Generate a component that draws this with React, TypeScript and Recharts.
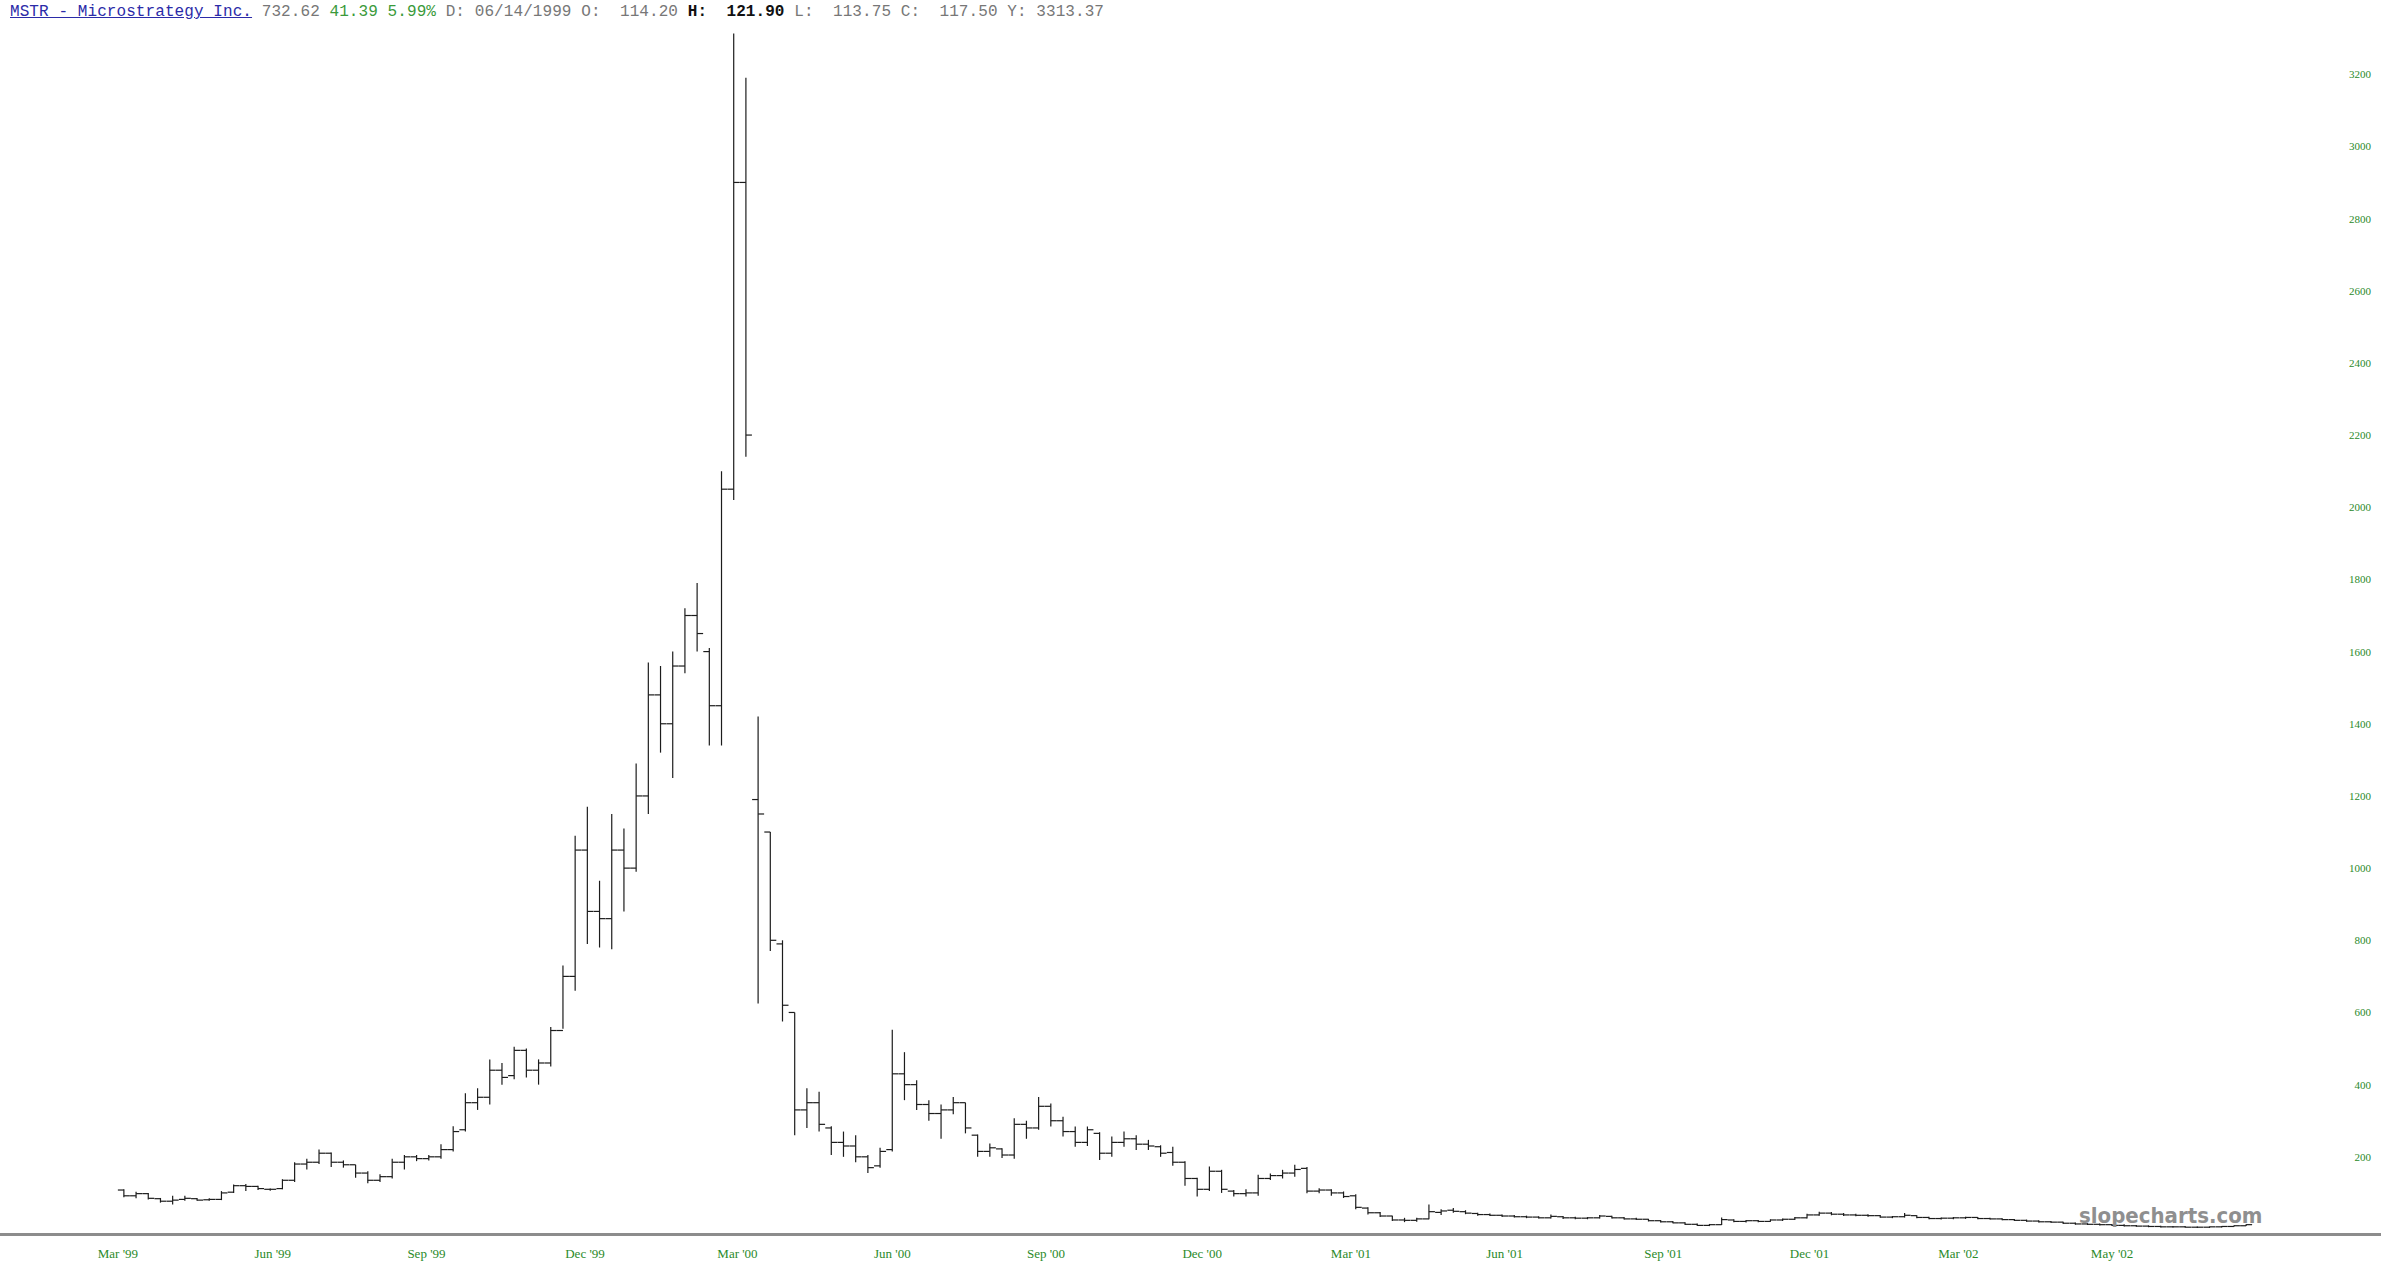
import { ComposedChart, Bar, XAxis, YAxis } from "recharts";

// weekly bars (5 trading days each), [open, high, low, close]
const rally: number[][] = [
  [108, 110, 88, 92], [92, 103, 85, 98], [98, 100, 82, 85], [84, 86, 73, 77],
  [77, 92, 68, 80], [82, 92, 78, 85], [84, 86, 78, 80], [81, 85, 78, 82],
  [82, 105, 80, 100], [102, 123, 100, 120], [120, 125, 105, 118], [118, 120, 108, 112],
  [110, 112, 106, 110], [112, 138, 110, 135], [135, 185, 130, 180], [180, 195, 165, 185],
  [185, 220, 180, 210], [210, 212, 172, 185], [185, 190, 170, 178], [178, 178, 142, 155],
  [155, 160, 127, 135], [135, 152, 130, 145], [145, 195, 140, 185], [185, 205, 165, 200],
  [200, 205, 188, 195], [195, 205, 190, 200], [200, 235, 195, 220], [220, 285, 215, 270],
  [275, 376, 270, 350], [350, 390, 330, 365], [365, 470, 345, 440], [440, 460, 400, 420],
  [425, 505, 415, 495], [495, 500, 420, 440], [440, 470, 400, 460], [460, 560, 450, 550],
];

const peak: number[][] = [
  [550, 730, 555, 700], [700, 1090, 660, 1050], [1050, 1170, 790, 880], [880, 965, 780, 860],
  [860, 1150, 775, 1050], [1050, 1110, 880, 1000], [1000, 1290, 990, 1200], [1200, 1570, 1150, 1480],
  [1480, 1560, 1320, 1400], [1400, 1600, 1250, 1560], [1560, 1720, 1540, 1700], [1700, 1790, 1600, 1650],
  [1600, 1610, 1340, 1450], [1450, 2100, 1340, 2050], [2050, 3313, 2020, 2900], [2900, 3190, 2140, 2200],
  [1190, 1420, 625, 1150], [1100, 1100, 770, 800], [790, 800, 575, 620], [600, 600, 260, 330],
];

const slide: number[][] = [
  [330, 390, 280, 350], [350, 380, 270, 290], [280, 285, 205, 240], [240, 270, 200, 230],
  [230, 260, 185, 200], [200, 205, 155, 170], [175, 225, 170, 215], [220, 552, 215, 430],
  [430, 490, 357, 400], [400, 412, 330, 345], [345, 357, 300, 320], [320, 345, 250, 330],
  [330, 366, 318, 350], [350, 350, 265, 280], [260, 262, 200, 215], [215, 237, 200, 225],
  [222, 224, 197, 205], [205, 307, 195, 290], [290, 300, 250, 280], [280, 366, 275, 340],
  [340, 348, 284, 300], [300, 311, 256, 270], [270, 284, 228, 240], [240, 284, 230, 275],
  [265, 268, 191, 210], [210, 256, 200, 240], [240, 270, 228, 250], [250, 260, 219, 235],
  [235, 247, 219, 230], [228, 232, 200, 210], [212, 228, 175, 185], [185, 188, 120, 140],
  [140, 142, 90, 110], [110, 173, 105, 160], [160, 164, 100, 110], [105, 108, 90, 98],
  [98, 110, 90, 100], [100, 150, 92, 140], [140, 154, 136, 148], [148, 164, 140, 155],
  [155, 178, 145, 165], [168, 172, 99, 105], [105, 113, 99, 108], [108, 110, 92, 100],
  [100, 104, 86, 90], [92, 96, 55, 60], [58, 60, 40, 45],
];

const tail: number[][] = [
  [45, 47, 33, 36], [36, 37, 22, 25], [25, 31, 19, 24], [24, 31, 20, 28],
  [28, 68, 27, 48], [46, 55, 39, 50], [52, 58, 45, 49], [48, 52, 41, 44],
  [43, 45, 37, 40], [40, 43, 36, 38], [38, 40, 33, 36], [36, 39, 32, 34],
  [34, 37, 30, 33], [33, 35, 29, 31], [31, 40, 29, 35], [34, 36, 28, 31],
  [31, 34, 27, 30], [30, 33, 27, 31], [31, 39, 29, 36], [35, 37, 29, 31],
  [31, 33, 26, 28], [28, 31, 25, 27], [27, 28, 21, 23], [23, 25, 18, 20],
  [20, 22, 16, 17], [17, 19, 11, 13], [13, 15, 8, 10], [10, 14, 8, 12],
  [12, 32, 11, 26], [25, 27, 19, 21], [21, 25, 18, 23], [23, 25, 19, 21],
  [21, 27, 20, 25], [25, 29, 22, 27], [27, 33, 25, 31], [31, 42, 29, 39],
  [39, 48, 37, 44], [44, 47, 38, 41], [41, 44, 36, 39], [39, 42, 35, 38],
  [38, 41, 34, 37], [37, 39, 31, 33], [33, 36, 30, 34], [34, 44, 32, 38],
  [37, 38, 30, 32], [32, 34, 27, 29], [29, 32, 26, 30], [30, 33, 27, 31],
  [31, 34, 28, 32], [32, 33, 27, 29], [29, 31, 26, 28], [28, 30, 24, 26],
  [26, 28, 22, 24], [24, 26, 20, 22], [22, 24, 18, 20], [20, 22, 17, 19],
  [19, 20, 14, 16], [16, 18, 12, 14], [14, 16, 11, 13], [13, 15, 10, 12],
  [12, 14, 8, 10], [10, 13, 7, 9], [9, 11, 6, 8], [8, 10, 5, 7],
  [7, 9, 4, 6], [6, 8, 4, 6], [6, 8, 4, 5], [5, 7, 3, 5],
  [5, 7, 3, 6], [6, 8, 4, 7], [7, 10, 6, 9], [9, 13, 8, 12],
];

// date labels sit at these week positions (trading-day based axis)
const tickWeeks = [-0.5, 12.2, 24.8, 37.8, 50.3, 63.0, 75.6, 88.4, 100.6, 113.2, 126.2, 138.2, 150.4, 163.0];
const tickLabels = ["Mar '99", "Jun '99", "Sep '99", "Dec '99", "Mar '00", "Jun '00", "Sep '00", "Dec '00", "Mar '01", "Jun '01", "Sep '01", "Dec '01", "Mar '02", "May '02"];
const priceTicks = [200, 400, 600, 800, 1000, 1200, 1400, 1600, 1800, 2000, 2200, 2400, 2600, 2800, 3000, 3200];

const data = [...rally, ...peak, ...slide, ...tail].map(([open, high, low, close], i) => ({
  i,
  open,
  high,
  low,
  close,
  range: [low, high],
}));

const GREEN = "#2a8a2a";

function OhlcShape(props: any) {
  const { x, y, width, height, payload } = props;
  if (!payload) return null;
  const cx = x + width / 2;
  const span = payload.high - payload.low || 1;
  const h = Math.max(height, 1);
  const yo = y + ((payload.high - payload.open) / span) * h;
  const yc = y + ((payload.high - payload.close) / span) * h;
  return (
    <g stroke="#1c1c1c" strokeWidth={1.2}>
      <line x1={cx} y1={y} x2={cx} y2={y + h} />
      <line x1={cx - 6} y1={yo} x2={cx} y2={yo} />
      <line x1={cx} y1={yc} x2={cx + 6} y2={yc} />
    </g>
  );
}

function DateTick({ x, payload }: any) {
  const idx = tickWeeks.indexOf(payload.value);
  return (
    <text x={x} y={1258} textAnchor="middle" fontFamily="'Liberation Serif', serif" fontSize={13} fill={GREEN}>
      {tickLabels[idx] ?? ""}
    </text>
  );
}

function PriceTick({ y, payload }: any) {
  return (
    <text x={2371} y={y} dy={4} textAnchor="end" fontFamily="'Liberation Serif', serif" fontSize={11} fill={GREEN}>
      {payload.value}
    </text>
  );
}

const mono = "'Liberation Mono', 'Courier New', monospace";

export default function App() {
  return (
    <div style={{ position: "absolute", left: 0, top: 0, width: 2381, height: 1275, background: "#fff", overflow: "hidden" }}>
      <div
        style={{
          position: "absolute",
          left: 10,
          top: 3,
          fontFamily: mono,
          fontSize: 16,
          letterSpacing: 0.08,
          lineHeight: "18px",
          whiteSpace: "pre",
          color: "#777",
        }}
      >
        <span style={{ color: "#2b2ba8", textDecoration: "underline" }}>MSTR - Microstrategy Inc.</span>
        <span> 732.62 </span>
        <span style={{ color: "#3a9a3a" }}>41.39 5.99%</span>
        <span> D: 06/14/1999 O:  114.20 </span>
        <span style={{ color: "#111", fontWeight: "bold" }}>H:  121.90</span>
        <span> L:  113.75 C:  117.50 Y: 3313.37</span>
      </div>

      <ComposedChart width={2381} height={1275} data={data} margin={{ top: 2, right: 0, left: 2, bottom: 6 }}>
        <XAxis
          type="number"
          dataKey="i"
          domain={[-10, 178]}
          ticks={tickWeeks}
          interval={0}
          axisLine={false}
          tickLine={false}
          height={40}
          tick={<DateTick />}
          allowDataOverflow
        />
        <YAxis
          orientation="right"
          type="number"
          domain={[0, 3400]}
          ticks={priceTicks}
          interval={0}
          width={86}
          axisLine={false}
          tickLine={false}
          tick={<PriceTick />}
        />
        <Bar dataKey="range" barSize={12} isAnimationActive={false} shape={<OhlcShape />} />
      </ComposedChart>

      <div style={{ position: "absolute", left: 0, top: 1233, width: 2381, height: 3, background: "#8c8c8c" }} />
      <div
        style={{
          position: "absolute",
          left: 2079,
          top: 1203,
          fontFamily: "'Liberation Sans Narrow', 'DejaVu Sans Condensed', sans-serif",
          fontWeight: "bold",
          fontSize: 22,
          lineHeight: "26px",
          color: "#8f8f8f",
        }}
      >
        slopecharts.com
      </div>
    </div>
  );
}
